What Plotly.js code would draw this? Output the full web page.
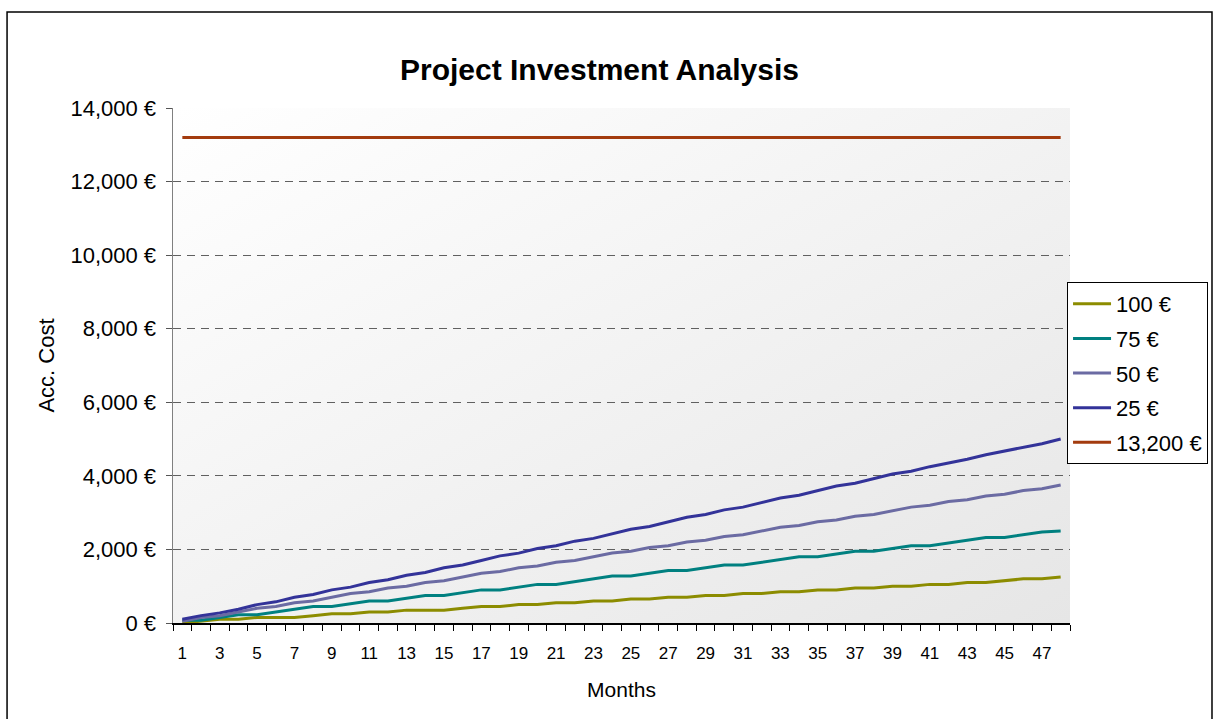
<!DOCTYPE html>
<html>
<head>
<meta charset="utf-8">
<script src="https://cdn.plot.ly/plotly-3.0.1.min.js"></script>
<style>html,body{margin:0;padding:0;background:#fff;}#chart{width:1216px;height:719px;}</style>
</head>
<body>
<div id="chart"></div>
<script>
// ---- data ----
const months = [1,2,3,4,5,6,7,8,9,10,11,12,13,14,15,16,17,18,19,20,21,22,23,24,25,26,27,28,29,30,31,32,33,34,35,36,37,38,39,40,41,42,43,44,45,46,47,48];
const seriesNames = ["100 €", "75 €", "50 €", "25 €", "13,200 €"];
const cost100 = [0,50,100,100,150,150,150,200,250,250,300,300,350,350,350,400,450,450,500,500,550,550,600,600,650,650,700,700,750,750,800,800,850,850,900,900,950,950,1000,1000,1050,1050,1100,1100,1150,1200,1200,1250];
const cost75 = [75,75,150,225,225,300,375,450,450,525,600,600,675,750,750,825,900,900,975,1050,1050,1125,1200,1275,1275,1350,1425,1425,1500,1575,1575,1650,1725,1800,1800,1875,1950,1950,2025,2100,2100,2175,2250,2325,2325,2400,2475,2500];
const cost50 = [50,150,200,300,400,450,550,600,700,800,850,950,1000,1100,1150,1250,1350,1400,1500,1550,1650,1700,1800,1900,1950,2050,2100,2200,2250,2350,2400,2500,2600,2650,2750,2800,2900,2950,3050,3150,3200,3300,3350,3450,3500,3600,3650,3750];
const cost25 = [100,200,275,375,500,575,700,775,900,975,1100,1175,1300,1375,1500,1575,1700,1825,1900,2025,2100,2225,2300,2425,2550,2625,2750,2875,2950,3075,3150,3275,3400,3475,3600,3725,3800,3925,4050,4125,4250,4350,4450,4575,4675,4775,4875,5000];
const cost13200 = [13200,13200,13200,13200,13200,13200,13200,13200,13200,13200,13200,13200,13200,13200,13200,13200,13200,13200,13200,13200,13200,13200,13200,13200,13200,13200,13200,13200,13200,13200,13200,13200,13200,13200,13200,13200,13200,13200,13200,13200,13200,13200,13200,13200,13200,13200,13200,13200];
const xTickVals = [1,3,5,7,9,11,13,15,17,19,21,23,25,27,29,31,33,35,37,39,41,43,45,47];
const xTickText = ["1","3","5","7","9","11","13","15","17","19","21","23","25","27","29","31","33","35","37","39","41","43","45","47"];
const yTickVals = [0,2000,4000,6000,8000,10000,12000,14000];
const yTickText = ["0 €","2,000 €","4,000 €","6,000 €","8,000 €","10,000 €","12,000 €","14,000 €"];

const allSeries = [cost100, cost75, cost50, cost25, cost13200];
const colors = ["#8c8c00", "#008080", "#6b6ba3", "#333399", "#a33b0e"];

const traces = allSeries.map((ys, i) => ({
  type: "scatter", mode: "lines", x: months, y: ys, name: seriesNames[i],
  legendgroup: "g" + i,
  line: {color: colors[i], width: 3}
}));

const FONT = "Liberation Sans, Arial, sans-serif";
const grad = "data:image/svg+xml;charset=utf-8," + encodeURIComponent(
  "<svg xmlns='http://www.w3.org/2000/svg' width='200' height='200' preserveAspectRatio='none'>" +
  "<defs><linearGradient id='g' x1='0' y1='0' x2='1' y2='1'>" +
  "<stop offset='0' stop-color='#ffffff'/><stop offset='1' stop-color='#e6e6e6'/></linearGradient></defs>" +
  "<rect width='200' height='200' fill='url(#g)'/></svg>");

const layout = {
  width: 1216, height: 719,
  margin: {l: 173, r: 146, t: 108, b: 96, autoexpand: false},
  paper_bgcolor: "#ffffff",
  plot_bgcolor: "rgba(0,0,0,0)",
  font: {family: FONT, color: "#000", size: 22},
  title: {text: "<b>Project Investment Analysis</b>", font: {family: FONT, size: 30, color: "#000"},
          xref: "container", x: 0.493, xanchor: "center", yref: "container", y: 0.904, yanchor: "middle"},
  showlegend: true,
  legend: {x: 0.9967, xanchor: "left", y: 0.662, yanchor: "top",
           bgcolor: "#ffffff", bordercolor: "#000000", borderwidth: 1, itemwidth: 38,
           font: {family: FONT, size: 22, color: "#000"}, tracegroupgap: 3},
  xaxis: {
    range: [0.5, 48.5], tickmode: "array", tickvals: xTickVals, ticktext: xTickText,
    ticks: "", ticklabelstandoff: 14, tickfont: {size: 17, family: FONT},
    showgrid: false, zeroline: false, showline: true, linecolor: "#000", linewidth: 1.5,
    minor: {tickmode: "linear", tick0: 0.5, dtick: 1, ticks: "outside", ticklen: 6, tickcolor: "#000", tickwidth: 1, showgrid: false},
    title: {text: "Months", font: {size: 21, family: FONT}, standoff: 20}
  },
  yaxis: {
    range: [0, 14000], tickmode: "array", tickvals: yTickVals, ticktext: yTickText,
    ticks: "outside", ticklen: 6, tickcolor: "#555", ticklabelstandoff: 5,
    tickfont: {size: 22, family: FONT},
    showgrid: true, gridcolor: "#606060", griddash: "8px,6px", gridwidth: 1.2,
    zeroline: false, showline: true, linecolor: "#808080", linewidth: 1.5,
    title: {text: "Acc. Cost", font: {size: 22, family: FONT}, standoff: 10}
  },
  images: [{source: grad, xref: "paper", yref: "paper", x: 0, y: 1, sizex: 1, sizey: 1,
            sizing: "stretch", layer: "below", xanchor: "left", yanchor: "top"}],
  shapes: [{type: "rect", xref: "paper", yref: "paper", x0: -0.185, x1: 1.1583, y0: -0.3, y1: 1.1864,
            line: {color: "#000", width: 1.5}, fillcolor: "rgba(0,0,0,0)", layer: "below"}]
};

Plotly.newPlot("chart", traces, layout, {displayModeBar: false, staticPlot: true});
</script>
</body>
</html>
